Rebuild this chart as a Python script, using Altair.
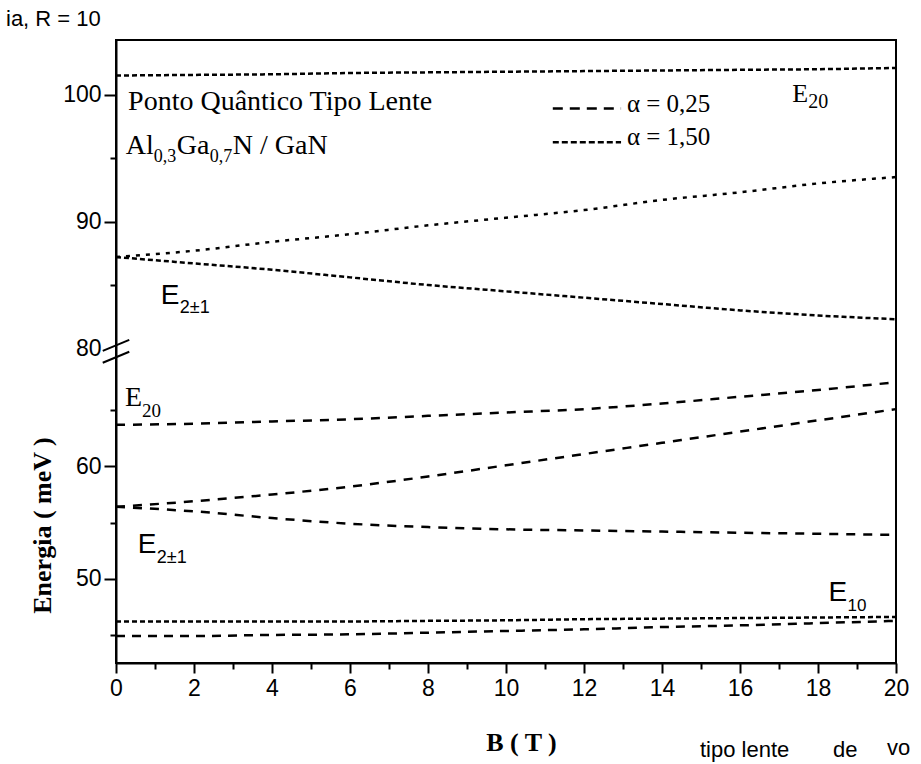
import altair as alt
import pandas as pd

# ---------------- values ----------------
B_T = [0, 2, 4, 6, 8, 10, 12, 14, 16, 18, 20]

# alpha = 0,25  (dashed)
E10_a025 = [44.9, 44.9, 45.0, 45.05, 45.2, 45.35, 45.5, 45.7, 45.85, 46.05, 46.25]
E21m_a025 = [56.4, 56.0, 55.4, 54.9, 54.6, 54.4, 54.3, 54.2, 54.1, 54.0, 53.9]
E21p_a025 = [56.4, 56.9, 57.5, 58.2, 59.1, 60.1, 61.1, 62.1, 63.1, 64.1, 65.1]
E20_a025 = [63.7, 63.8, 64.0, 64.2, 64.5, 64.8, 65.1, 65.6, 66.2, 66.8, 67.5]

# alpha = 1,50  (short dashes / dots)
E10_a150 = [46.2, 46.2, 46.2, 46.2, 46.25, 46.3, 46.4, 46.45, 46.5, 46.55, 46.6]
E21m_a150 = [87.2, 86.7, 86.2, 85.6, 85.0, 84.5, 84.0, 83.5, 83.0, 82.6, 82.3]
E21p_a150 = [87.2, 87.7, 88.4, 89.0, 89.7, 90.3, 90.9, 91.7, 92.3, 93.0, 93.5]
E20_a150 = [101.5, 101.55, 101.6, 101.7, 101.75, 101.8, 101.85, 101.9, 101.95, 102.0, 102.1]

X_MAJOR = [0, 2, 4, 6, 8, 10, 12, 14, 16, 18, 20]
X_MINOR = [1, 3, 5, 7, 9, 11, 13, 15, 17, 19]
Y_MAJOR = [50, 60, 80, 90, 100]
Y_MINOR = [45, 55, 65, 85, 95]

# broken energy axis: lower part 42.5..70.5, upper part 80..104.3 (slightly stretched)
E_MIN, E_MAX = 42.5, 104.3
LOWER_TOP, UPPER_BOTTOM, UPPER_STRETCH = 70.5, 80.0, 1.13


def to_axis(e):
    if e < (LOWER_TOP + UPPER_BOTTOM) / 2:
        return e
    return round(LOWER_TOP + (e - UPPER_BOTTOM) * UPPER_STRETCH, 4)


curves = [
    ("a_E10", E10_a025, [9, 7]),
    ("a_E21m", E21m_a025, [9, 8]),
    ("a_E21p", E21p_a025, [9, 8]),
    ("a_E20", E20_a025, [9, 8]),
    ("b_E10", E10_a150, [5, 3]),
    ("b_E21m", E21m_a150, [5, 3]),
    ("b_E21p", E21p_a150, [4, 6]),
    ("b_E20", E20_a150, [5, 3]),
]
rows = []
for name, vals, _ in curves:
    for b, e in zip(B_T, vals):
        rows.append({"B": b, "E": e, "d": to_axis(e), "curve": name})
df = pd.DataFrame(rows)

W, H = 780, 623
xs = alt.Scale(domain=[0, 20], nice=False, zero=False)
ys = alt.Scale(domain=[to_axis(E_MIN), to_axis(E_MAX)], nice=False, zero=False)
SERIF = "Liberation Serif"
SANS = "Liberation Sans"

inv_expr = (f"datum.value < {LOWER_TOP - 0.01} ? format(datum.value, '.0f') : "
            f"format({UPPER_BOTTOM} + (datum.value - {LOWER_TOP}) / {UPPER_STRETCH}, '.0f')")

x_axis = alt.Axis(values=X_MAJOR, title="B ( T )", orient="bottom", grid=False,
                  labelFont=SANS, labelFontSize=23, labelColor="black", labelFlush=False,
                  labelPadding=4, tickSize=10, tickWidth=2, tickColor="black",
                  domainColor="black", domainWidth=2,
                  titleFont=SERIF, titleFontWeight="bold", titleFontSize=26, titleColor="black",
                  titleX=405, titleY=79, titleBaseline="middle", titleAlign="center")
y_axis = alt.Axis(values=[to_axis(v) for v in Y_MAJOR], labelExpr=inv_expr,
                  title="Energia ( meV )", orient="left", grid=False,
                  labelFont=SANS, labelFontSize=23, labelColor="black", labelPadding=3,
                  labelFlush=False,
                  tickSize=12, tickWidth=2, tickColor="black",
                  tickOpacity={"condition": {"test": f"abs(datum.value - {LOWER_TOP}) < 0.01", "value": 0},
                               "value": 1},
                  domainColor="black", domainWidth=2,
                  titleFont=SERIF, titleFontWeight="bold", titleFontSize=26, titleColor="black",
                  titleX=-74, titleY=485, titleAngle=270, titleAlign="center", titleBaseline="middle")

lines = alt.Chart(df).mark_line(color="black", strokeWidth=2.5, interpolate="monotone").encode(
    x=alt.X("B:Q", scale=xs, axis=x_axis),
    y=alt.Y("d:Q", scale=ys, axis=y_axis),
    detail="curve:N",
    strokeDash=alt.StrokeDash("curve:N", legend=None,
                              scale=alt.Scale(domain=[c[0] for c in curves], range=[c[2] for c in curves])),
)

minor = alt.Chart(df).mark_point(opacity=0).encode(
    x=alt.X("B:Q", scale=xs, axis=alt.Axis(values=X_MINOR, labels=False, domain=False, title=None,
                                          grid=False, orient="bottom", tickSize=6, tickWidth=2,
                                          tickColor="black")),
    y=alt.Y("d:Q", scale=ys, axis=alt.Axis(values=[to_axis(v) for v in Y_MINOR], labels=False,
                                          domain=False, title=None, grid=False, orient="left",
                                          tickSize=6, tickWidth=2, tickColor="black")),
)

# axis-break marks at 80
brk = pd.DataFrame({"b1": [-0.34, -0.34], "b2": [0.34, 0.34],
                    "d1": [70.29, 69.23], "d2": [71.27, 70.21]})
breaks = alt.Chart(brk).mark_rule(color="black", strokeWidth=2).encode(
    x=alt.X("b1:Q", scale=xs, axis=None), x2="b2:Q",
    y=alt.Y("d1:Q", scale=ys, axis=None), y2="d2:Q")


def txt(t, b, e, font, size, dx=0, dy=0, weight="normal", baseline="alphabetic"):
    d = pd.DataFrame({"B": [b], "d": [to_axis(e)], "t": [t]})
    return alt.Chart(d).mark_text(font=font, fontSize=size, dx=dx, dy=dy, align="left",
                                  baseline=baseline, fontWeight=weight, color="black").encode(
        x=alt.X("B:Q", scale=xs, axis=None), y=alt.Y("d:Q", scale=ys, axis=None), text="t:N")


texts = [
    txt("Ponto Quântico Tipo Lente", 0.31, 98.8, SERIF, 28),
    txt("Al", 0.25, 95.3, SERIF, 28),
    txt("0,3", 0.25, 95.3, SERIF, 18, dx=28, dy=8),
    txt("Ga", 0.25, 95.3, SERIF, 28, dx=51),
    txt("0,7", 0.25, 95.3, SERIF, 18, dx=84, dy=8),
    txt("N / GaN", 0.25, 95.3, SERIF, 28, dx=107),
    # level labels
    txt("E", 1.15, 83.5, SANS, 28),
    txt("2±1", 1.15, 83.5, SANS, 18, dx=19, dy=9),
    txt("E", 0.23, 65.4, SERIF, 28),
    txt("20", 0.23, 65.4, SERIF, 19, dx=17, dy=11),
    txt("E", 0.56, 52.25, SANS, 28),
    txt("2±1", 0.56, 52.25, SANS, 18, dx=19, dy=10),
    txt("E", 18.27, 48.0, SANS, 28),
    txt("10", 18.27, 48.0, SANS, 17, dx=19, dy=10),
    txt("E", 17.34, 99.4, SERIF, 26),
    txt("20", 17.34, 99.4, SERIF, 20, dx=16, dy=6),
    # legend texts
    txt("α = 0,25", 13.1, 98.9, SERIF, 25, dy=3),
    txt("α = 1,50", 13.1, 96.25, SERIF, 25, dy=3),
]

leg = pd.DataFrame({"b1": [11.2], "b2": [12.95], "d": [to_axis(98.9)]})
leg2 = pd.DataFrame({"b1": [11.2], "b2": [12.95], "d": [to_axis(96.25)]})
legend1 = alt.Chart(leg).mark_rule(color="black", strokeWidth=2.5, strokeDash=[10, 7]).encode(
    x=alt.X("b1:Q", scale=xs, axis=None), x2="b2:Q", y=alt.Y("d:Q", scale=ys, axis=None))
legend2 = alt.Chart(leg2).mark_rule(color="black", strokeWidth=2.5, strokeDash=[6, 3]).encode(
    x=alt.X("b1:Q", scale=xs, axis=None), x2="b2:Q", y=alt.Y("d:Q", scale=ys, axis=None))

# fragments of the surrounding page text visible in the scan (kept just inside the edges)
page_frag = pd.DataFrame({"t": ["ia, R  =  10", "tipo lente", "de", "vo"],
                          "px": [-110, 584, 717, 771], "py": [-14, 717, 717, 715]})
frags = alt.Chart(page_frag).mark_text(font=SANS, fontSize=22, align="left", baseline="alphabetic",
                                       color="black").encode(
    x=alt.X("px:Q", scale=None, axis=None), y=alt.Y("py:Q", scale=None, axis=None), text="t:N")

chart = alt.layer(lines, minor, breaks, legend1, legend2, *texts, frags).resolve_axis(
    x="independent", y="independent"
).properties(
    width=W, height=H,
    autosize=alt.AutoSizeParams(type="none"),
    padding={"left": 116, "top": 40, "right": 25, "bottom": 101},
    background="white",
).configure_view(stroke="black", strokeWidth=2)

chart.save("out.html", embed_options={"renderer": "svg", "actions": False})
